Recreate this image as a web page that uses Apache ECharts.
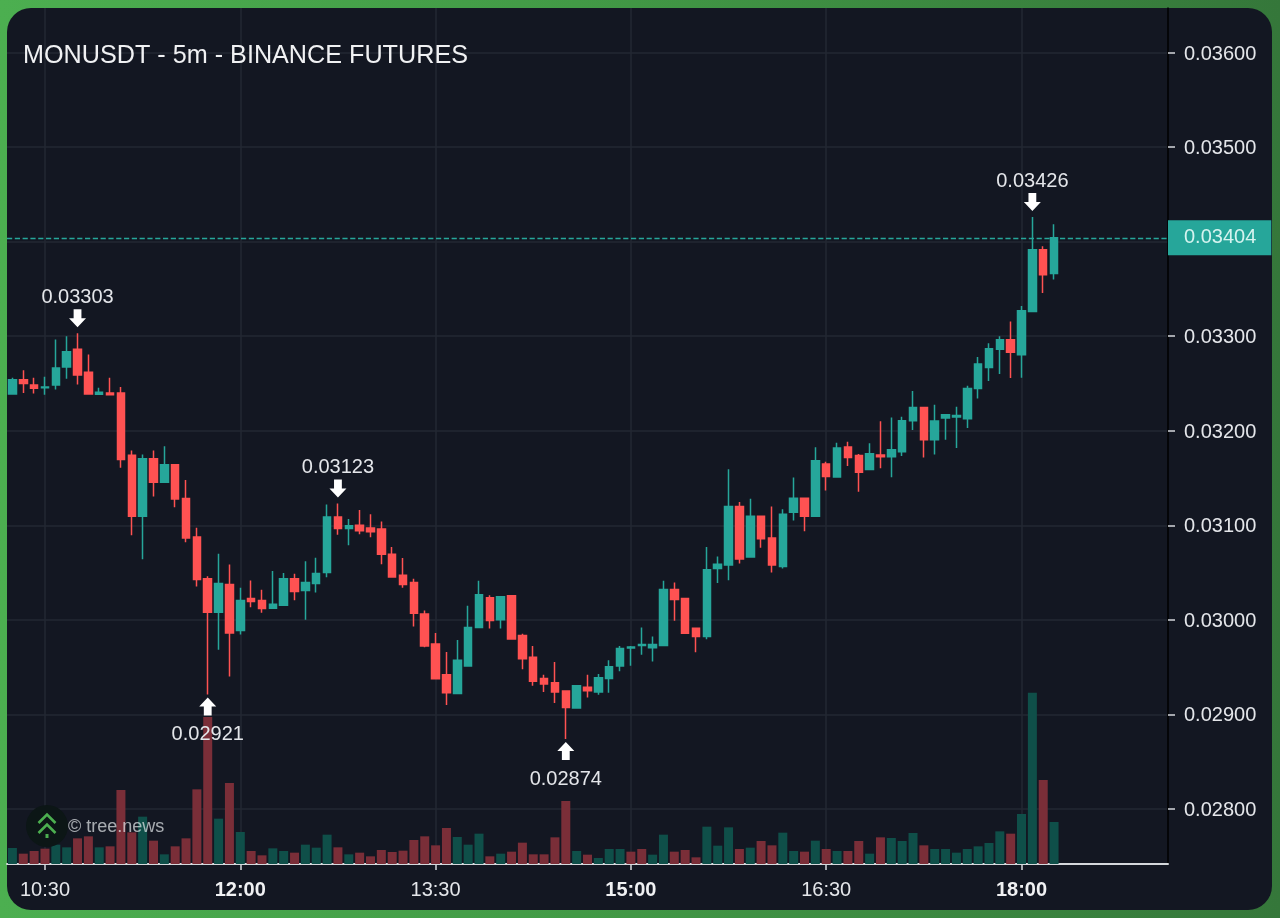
<!DOCTYPE html>
<html>
<head>
<meta charset="utf-8">
<title>MONUSDT - 5m - BINANCE FUTURES</title>
<script src="https://cdn.jsdelivr.net/npm/echarts@6/dist/echarts.min.js"></script>
<style>
html, body { margin: 0; padding: 0; width: 1280px; height: 918px; overflow: hidden; }
body { background: linear-gradient(90deg, #4caf50 0%, #429a46 45%, #35773a 100%); }
#panel { position: absolute; left: 7px; top: 8px; width: 1265px; height: 902px; background: #131722; border-radius: 24px; }
#main { position: absolute; left: 0; top: 0; width: 1280px; height: 918px; }
</style>
</head>
<body>
<div id="panel"></div>
<div id="main"></div>
<script>
// 5 minute candles
var opens = [0.03239,0.03254,0.032484,0.032456,0.032484,0.032674,0.032863,0.032618,0.032386,0.0324,
0.0324,0.03174,0.031095,0.031705,0.031456,0.03164,0.031284,0.030876,0.030435,0.03008,
0.030375,0.029887,0.030226,0.030205,0.030124,0.030155,0.030435,0.03031,0.030385,0.0305,
0.031088,0.030965,0.031,0.030972,0.030961,0.030693,0.030473,0.030396,0.030063,0.029745,
0.02942,0.02922,0.029512,0.029919,0.030233,0.03,0.030254,0.029834,0.029604,0.029381,
0.029335,0.029247,0.029067,0.029286,0.029237,0.02938,0.029512,0.029703,0.02973,0.029706,
0.029728,0.03032,0.030226,0.02991,0.029823,0.030544,0.03058,0.0312,0.030664,0.031095,
0.030866,0.030565,0.031138,0.031286,0.031095,0.031649,0.031511,0.031828,0.031737,0.031589,
0.031744,0.031726,0.031779,0.032106,0.032247,0.031906,0.032134,0.032145,0.032127,0.032448,
0.03267,0.032863,0.032962,0.032803,0.03326,0.033915,0.033662];
var closes = [0.03254,0.0325,0.032449,0.032463,0.032663,0.032835,0.032589,0.032389,0.032407,0.03238,
0.031695,0.031095,0.031705,0.031456,0.03164,0.031277,0.030866,0.030427,0.030081,0.030385,
0.02986,0.030205,0.030194,0.03012,0.030166,0.030435,0.0303,0.030396,0.03049,0.031088,
0.030965,0.030996,0.030943,0.030933,0.030693,0.030452,0.030375,0.03007,0.029724,0.029378,
0.02923,0.029572,0.029919,0.030265,0.029993,0.030244,0.029798,0.02959,0.02935,0.029321,
0.029237,0.029074,0.029304,0.02925,0.029388,0.029505,0.029696,0.029714,0.02974,0.02974,
0.03032,0.030215,0.029858,0.029823,0.03053,0.030587,0.0312,0.030643,0.031095,0.030859,
0.03058,0.031117,0.031286,0.031095,0.031684,0.031515,0.031818,0.031716,0.03156,0.031758,
0.031726,0.0318,0.032106,0.032247,0.031906,0.032103,0.03217,0.03216,0.032448,0.032705,
0.032867,0.032962,0.03283,0.033268,0.033915,0.03365,0.03404];
var lows = [0.03238,0.0324,0.032393,0.03238,0.032435,0.03255,0.032488,0.032389,0.03238,0.03238,
0.03161,0.030895,0.03064,0.031305,0.03145,0.03119,0.03082,0.030353,0.02921,0.029685,
0.0294,0.029845,0.030134,0.030074,0.03012,0.03015,0.030208,0.03,0.03029,0.03045,
0.0309,0.030788,0.030905,0.030873,0.030587,0.03045,0.03034,0.02993,0.02971,0.029375,
0.0291,0.02922,0.02951,0.029915,0.029908,0.029908,0.02979,0.029477,0.029304,0.029237,
0.02912,0.02874,0.02906,0.02918,0.029208,0.02923,0.029456,0.029516,0.02963,0.02956,
0.029725,0.02999,0.029855,0.029657,0.029795,0.03039,0.03042,0.030597,0.03066,0.030763,
0.0305,0.030544,0.03105,0.030936,0.03109,0.031367,0.03151,0.031628,0.031356,0.031585,
0.031603,0.031508,0.031733,0.032008,0.031716,0.03175,0.031906,0.031818,0.03203,0.032342,
0.032525,0.0326,0.032557,0.03256,0.03326,0.033458,0.0336];
var highs = [0.03256,0.03264,0.032561,0.03257,0.032965,0.033,0.03303,0.032807,0.032456,0.03256,
0.032463,0.03179,0.03175,0.03179,0.031835,0.03164,0.03148,0.030975,0.03046,0.0307,
0.030586,0.03034,0.030417,0.030318,0.030516,0.030495,0.030488,0.03062,0.030657,0.03122,
0.03123,0.031067,0.031163,0.031117,0.03104,0.03077,0.030654,0.030435,0.0301,0.029862,
0.02966,0.029788,0.030148,0.030413,0.03026,0.03025,0.03026,0.029852,0.029724,0.02942,
0.029555,0.02925,0.02931,0.02942,0.029427,0.029572,0.029724,0.029724,0.02992,0.029823,
0.030413,0.030396,0.03023,0.02992,0.03077,0.03067,0.031594,0.031247,0.03128,0.0311,
0.0312,0.03117,0.031505,0.03129,0.031825,0.031673,0.031874,0.031885,0.031754,0.031867,
0.0321,0.032141,0.032148,0.03242,0.03225,0.032275,0.03217,0.032254,0.032476,0.03278,
0.032926,0.033,0.033155,0.03332,0.03426,0.03395,0.034183];
var volumes = [48,31,39,46,58,50,77,83,50,53,
222,95,142,70,29,53,77,224,441,136,
243,96,39,26,47,39,34,58,49,88,
50,29,34,23,42,36,40,72,83,56,
108,81,58,91,23,31,37,64,29,29,
80,189,39,28,18,45,45,37,45,28,
88,37,42,20,112,55,110,45,49,69,
56,94,39,37,70,45,39,39,69,31,
80,78,69,93,56,45,45,34,45,53,
63,98,91,150,514,252,126];
// thin candles that close up but have a red volume bar
var redVolumeAt = [3, 57, 58];

var startMinutes = 10 * 60 + 15;
var slotCount = 107; // empty slots on the right side
var priceTicks = [0.028, 0.029, 0.03, 0.031, 0.032, 0.033, 0.034, 0.035, 0.036];
var timeTicks = ['10:30', '12:00', '13:30', '15:00', '16:30', '18:00'];
var boldTimes = ['12:00', '15:00', '18:00'];
var lastPrice = 0.03404;
var highMarks = [6, 30, 94];
var lowMarks = [18, 51];

var upColor = '#26a69a';
var downColor = '#ff5252';
var upVolColor = '#0f4f49';
var downVolColor = '#7a2e38';
var gridColor = '#232833';
var textColor = '#e4e6ea';

var categories = [];
for (var i = 0; i < slotCount; i++) {
    var m = startMinutes + i * 5;
    var hh = Math.floor(m / 60);
    var mm = m % 60;
    categories.push(hh + ':' + (mm < 10 ? '0' + mm : mm));
}

var candleData = [];
var volumeData = [];
for (var i = 0; i < opens.length; i++) {
    candleData.push([opens[i], closes[i], lows[i], highs[i]]);
    var isUp = closes[i] >= opens[i] && redVolumeAt.indexOf(i) < 0;
    volumeData.push({value: volumes[i], itemStyle: {color: isUp ? upVolColor : downVolColor}});
}

var arrowDown = 'path://M2.7,0 L7.3,0 L7.3,8 L10,8 L5,16 L0,8 L2.7,8 Z';
var arrowUp = 'path://M5,0 L10,8 L7.3,8 L7.3,16 L2.7,16 L2.7,8 L0,8 Z';

function isTimeTick(index, value) {
    return timeTicks.indexOf(value) >= 0;
}

var marks = [];
highMarks.forEach(function (idx) {
    marks.push({
        coord: [idx, highs[idx]],
        value: highs[idx].toFixed(5),
        symbol: arrowDown,
        symbolOffset: [0, -15],
        label: {offset: [0, -21]}
    });
});
lowMarks.forEach(function (idx) {
    marks.push({
        coord: [idx, lows[idx]],
        value: lows[idx].toFixed(5),
        symbol: arrowUp,
        symbolOffset: [0, 12],
        label: {offset: [0, 28]}
    });
});

var chart = echarts.init(document.getElementById('main'), null, {renderer: 'canvas'});
chart.setOption({
    animation: false,
    backgroundColor: 'transparent',
    textStyle: {fontFamily: '"Liberation Sans", Arial, sans-serif'},
    title: {
        text: 'MONUSDT - 5m - BINANCE FUTURES',
        left: 18,
        top: 39,
        textStyle: {color: '#f0f1f3', fontSize: 25.2, fontWeight: 'normal', fontFamily: '"Liberation Sans", Arial, sans-serif'}
    },
    grid: [
        {left: 7, top: 8, width: 1161, height: 856},
        {left: 7, top: 692, width: 1161, height: 172}
    ],
    xAxis: [
        {
            type: 'category',
            gridIndex: 0,
            data: categories,
            boundaryGap: true,
            axisLine: {lineStyle: {color: '#d5d8dc', width: 2}},
            axisTick: {show: true, interval: isTimeTick, alignWithLabel: true, length: 6, lineStyle: {color: '#d5d8dc', width: 1.5}},
            splitLine: {show: true, interval: isTimeTick, alignWithLabel: true, lineStyle: {color: gridColor, width: 1.5}},
            axisLabel: {
                interval: isTimeTick,
                margin: 16,
                fontSize: 20,
                color: textColor,
                formatter: function (value) {
                    return boldTimes.indexOf(value) >= 0 ? '{b|' + value + '}' : value;
                },
                rich: {b: {fontSize: 20, fontWeight: 'bold', color: '#f0f1f3'}}
            }
        },
        {
            type: 'category',
            gridIndex: 1,
            data: categories,
            show: false
        }
    ],
    yAxis: [
        {
            type: 'value',
            gridIndex: 0,
            position: 'right',
            scale: true,
            min: 0.027418,
            max: 0.036471,
            axisLine: {show: true, lineStyle: {color: '#000000', width: 1.5}},
            axisTick: {show: true, length: 7, customValues: priceTicks, lineStyle: {color: '#d5d8dc', width: 1.5}},
            splitLine: {show: true, lineStyle: {color: gridColor, width: 1.5}},
            axisLabel: {
                customValues: priceTicks,
                margin: 16,
                formatter: function (value) {
                    return '{p|' + value.toFixed(5) + '}';
                },
                rich: {p: {fontSize: 20, color: textColor, padding: [3, 0, 0, 0]}}
            }
        },
        {
            type: 'value',
            gridIndex: 1,
            show: false,
            min: 0,
            max: 516
        }
    ],
    series: [
        {
            name: 'Volume',
            type: 'bar',
            xAxisIndex: 1,
            yAxisIndex: 1,
            barWidth: 9,
            z: 1,
            data: volumeData
        },
        {
            name: 'MONUSDT',
            type: 'candlestick',
            xAxisIndex: 0,
            yAxisIndex: 0,
            barWidth: 8,
            z: 3,
            itemStyle: {
                color: upColor,
                color0: downColor,
                borderColor: upColor,
                borderColor0: downColor,
                borderWidth: 1.5
            },
            data: candleData,
            markPoint: {
                symbolSize: [17, 18],
                z: 6,
                label: {
                    show: true,
                    position: 'inside',
                    fontSize: 20,
                    color: textColor,
                    textBorderWidth: 0,
                    formatter: '{c}'
                },
                itemStyle: {color: '#ffffff'},
                data: marks
            },
            markLine: {
                symbol: 'none',
                silent: true,
                precision: 5,
                z: 7,
                lineStyle: {color: upColor, type: 'dashed', width: 1.3},
                label: {
                    show: true,
                    position: 'end',
                    distance: 0,
                    formatter: lastPrice.toFixed(5),
                    fontSize: 20,
                    color: '#d5f3ef',
                    backgroundColor: upColor,
                    padding: [8, 15, 7, 16]
                },
                data: [{yAxis: lastPrice}]
            }
        }
    ],
    graphic: [
        {type: 'circle', z: 100, shape: {cx: 47, cy: 826, r: 21}, style: {fill: '#0c1616'}},
        {type: 'polyline', z: 101, shape: {points: [[38.5, 823], [47, 814.5], [55.5, 823]]}, style: {stroke: '#4caf50', lineWidth: 2.6, fill: null}},
        {type: 'polyline', z: 101, shape: {points: [[38.5, 833], [47, 824.5], [55.5, 833]]}, style: {stroke: '#4caf50', lineWidth: 2.6, fill: null}},
        {type: 'rect', z: 101, shape: {x: 45.5, y: 834, width: 3, height: 4}, style: {fill: '#4caf50'}},
        {
            type: 'text',
            z: 101,
            x: 68,
            y: 827,
            style: {
                text: '© tree.news',
                fill: 'rgba(225,228,232,0.72)',
                font: '18px "Liberation Sans", Arial, sans-serif',
                verticalAlign: 'middle'
            }
        }
    ]
});
</script>
</body>
</html>
